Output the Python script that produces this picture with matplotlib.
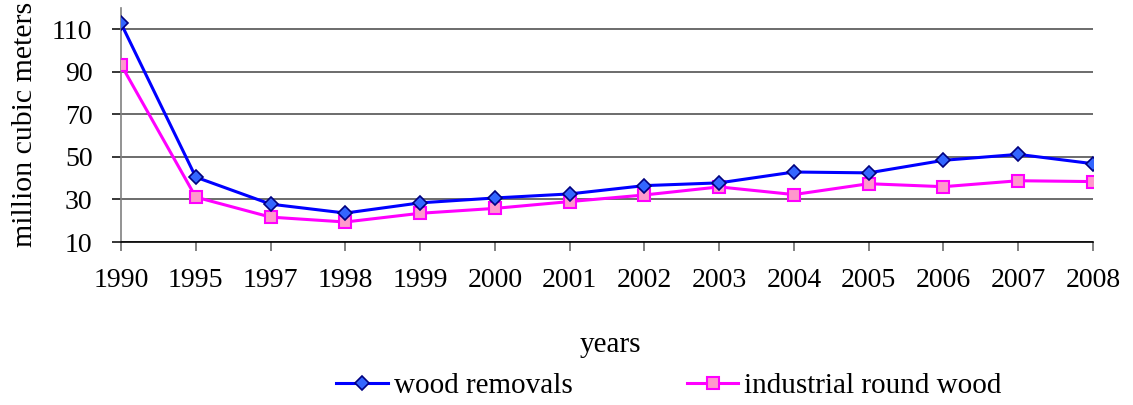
import matplotlib
matplotlib.use("Agg")
import matplotlib.pyplot as plt

# data
years = ['1990', '1995', '1997', '1998', '1999', '2000', '2001',
         '2002', '2003', '2004', '2005', '2006', '2007', '2008']
wood_removals = [112.8, 40.5, 27.8, 23.6, 28.4, 30.7, 32.6,
                 36.5, 37.8, 42.9, 42.5, 48.4, 51.2, 46.8]
industrial_round_wood = [93.4, 31.1, 21.7, 19.4, 23.5, 25.8, 29.0,
                         32.1, 35.9, 32.3, 37.4, 36.0, 38.8, 38.4]
y_ticks = [10, 30, 50, 70, 90, 110]

plt.rcParams['font.family'] = ['Liberation Serif', 'DejaVu Serif']

W, H = 1133, 405
fig = plt.figure(figsize=(W / 100, H / 100), dpi=100)
ax = fig.add_axes([121 / W, 1 - 242 / H, (1093 - 121) / W, (242 - 8) / H])

x = list(range(len(years)))
ax.plot(x, wood_removals, color='#0000ff', lw=2.2, marker='D', ms=6.8,
        mfc='#3366ff', mec='#000080', mew=1.2, label='wood removals',
        zorder=4)
ax.plot(x, industrial_round_wood, color='#ff00ff', lw=2.2, marker='s', ms=8.8,
        mfc='#ff99cc', mec='#ff00ff', mew=1.5, label='industrial round wood',
        zorder=3)

ax.set_xlim(0, len(years) - 1)
ax.set_ylim(10, 120)
ax.set_yticks(y_ticks)
ax.set_xticks(x)
ax.set_xticklabels(years)
ax.grid(axis='y', color='#444444', lw=1.1)
ax.set_axisbelow(True)

for side in ['top', 'right']:
    ax.spines[side].set_visible(False)
ax.spines['left'].set_color('#808080')
ax.spines['left'].set_linewidth(1.2)
ax.spines['bottom'].set_color('black')
ax.spines['bottom'].set_linewidth(1.2)

ax.tick_params(axis='y', length=6.5, width=1.1, color='black', pad=14, labelsize=20)
ax.tick_params(axis='x', length=6.5, width=1.1, color='#606060', pad=12, labelsize=20)

fig.text(25 / W, 1 - 124 / H, 'million cubic meters', rotation=90,
         ha='center', va='center', fontsize=21.5)
fig.text(610 / W, 1 - 345 / H, 'years', ha='center', va='center', fontsize=21)

fig.legend(loc='center', bbox_to_anchor=(669 / W, 1 - 386 / H), ncol=2,
           frameon=False, fontsize=21, handlelength=1.78, handletextpad=0.2,
           columnspacing=3.9, borderpad=0, borderaxespad=0)

fig.savefig('out.png', dpi=100)
